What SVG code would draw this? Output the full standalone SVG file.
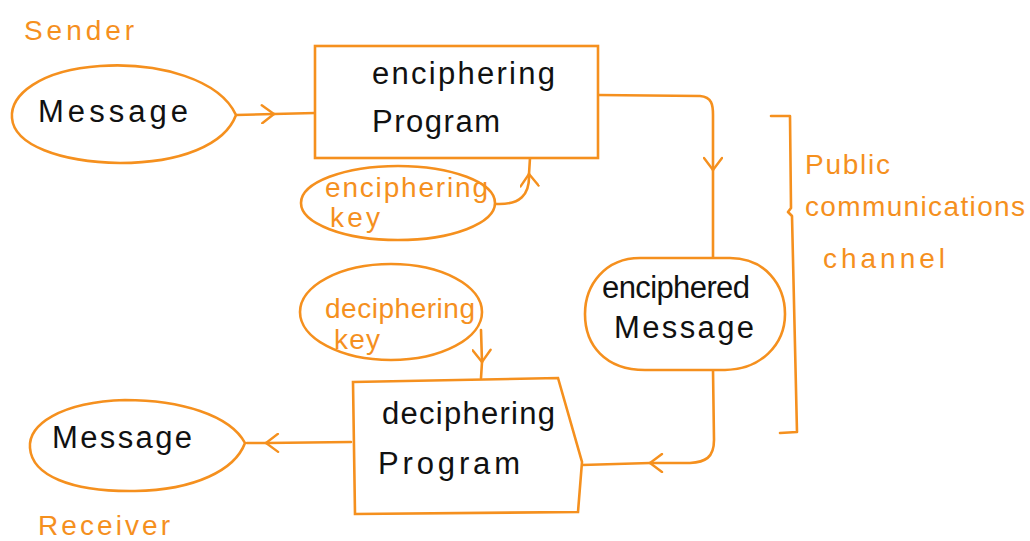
<svg xmlns="http://www.w3.org/2000/svg" width="1030" height="541" viewBox="0 0 1030 541">
<defs>
<style>
.o{fill:none;stroke:#f5901e;stroke-width:2.6;stroke-linecap:round;stroke-linejoin:round}
.bn{fill:#fff;stroke:#f5901e;stroke-width:2.6}
.t{font-family:"Liberation Sans",Arial,sans-serif;font-size:31px;fill:#111}
.ot{font-family:"Liberation Sans",Arial,sans-serif;font-size:28px;fill:#f5901e}
</style>
<marker id="ch" viewBox="0 0 20 20" refX="14" refY="10" markerWidth="20" markerHeight="20" markerUnits="userSpaceOnUse" orient="auto">
<path d="M2,1 L14,10 L2,19" fill="none" stroke="#f5901e" stroke-width="2.4" stroke-linecap="round"/>
</marker>
</defs>
<rect width="1030" height="541" fill="#fff"/>
<text class="ot" x="24" y="40" textLength="110" lengthAdjust="spacing">Sender</text>
<text class="ot" x="38" y="535" textLength="132" lengthAdjust="spacing">Receiver</text>
<g id="connectors">
<path class="o" d="M236,115 L274,114" marker-end="url(#ch)"/>
<path class="o" d="M274,114 L315,113"/>
<path class="o" d="M496,204 C520,205 530,195 529,174" marker-end="url(#ch)"/>
<path class="o" d="M529,174 L530,158"/>
<path class="o" d="M598,95 L700,96 C712,97 713,105 713,115 L713,170" marker-end="url(#ch)"/>
<path class="o" d="M713,170 L713,258"/>
<path class="o" d="M713,370 L714,440 C714,458 705,462 690,463 L650,463" marker-end="url(#ch)"/>
<path class="o" d="M650,463 L582,465"/>
<path class="o" d="M481,330 L482,362" marker-end="url(#ch)"/>
<path class="o" d="M482,362 L481,378"/>
<path class="o" d="M351,442 L266,443" marker-end="url(#ch)"/>
<path class="o" d="M266,443 L247,443"/>
<path class="o" d="M771,116 L790,116 L791,208 L788,212 L792,216 L797,432 L780,433"/>
</g>
<g id="msg-sender">
<path class="bn" d="M236,115 C220,80 160,62 100,66 C40,70 10,95 12,118 C14,145 60,162 120,163 C180,163 225,145 236,115 Z"/>
<text class="t" x="38" y="122" textLength="150" lengthAdjust="spacing">Message</text>
</g>
<g id="enc-program">
<rect class="bn" x="315" y="46" width="283" height="112"/>
<text class="t" x="372" y="84" textLength="183" lengthAdjust="spacing">enciphering</text>
<text class="t" x="372" y="132" textLength="128" lengthAdjust="spacing">Program</text>
</g>
<g id="enc-key">
<ellipse class="bn" cx="398" cy="203" rx="97" ry="37"/>
<text class="ot" x="325" y="197" textLength="163" lengthAdjust="spacing">enciphering</text>
<text class="ot" x="330" y="227" textLength="50" lengthAdjust="spacing">key</text>
</g>
<g id="enc-message">
<path class="bn" d="M640,258 L730,258 C765,258 785,285 785,314 C785,345 760,370 725,370 L645,370 C605,370 585,345 585,314 C585,285 605,258 640,258 Z"/>
<text class="t" x="602" y="298" textLength="148" lengthAdjust="spacing">enciphered</text>
<text class="t" x="614" y="338" textLength="140" lengthAdjust="spacing">Message</text>
</g>
<g id="channel-label">
<text class="ot" x="805" y="174" textLength="85" lengthAdjust="spacing">Public</text>
<text class="ot" x="805" y="216" textLength="220" lengthAdjust="spacing">communications</text>
<text class="ot" x="823" y="268" textLength="122" lengthAdjust="spacing">channel</text>
</g>
<g id="dec-key">
<ellipse class="bn" cx="391" cy="312" rx="91" ry="48"/>
<text class="ot" x="325" y="318" textLength="150" lengthAdjust="spacing">deciphering</text>
<text class="ot" x="334" y="349" textLength="46" lengthAdjust="spacing">key</text>
</g>
<g id="dec-program">
<path class="bn" d="M353,382 L558,378 L582,462 L578,512 L355,514 Z"/>
<text class="t" x="382" y="424" textLength="173" lengthAdjust="spacing">deciphering</text>
<text class="t" x="378" y="474" textLength="142" lengthAdjust="spacing">Program</text>
</g>
<g id="msg-receiver">
<path class="bn" d="M245,443 C230,415 180,400 125,400 C60,402 28,425 30,448 C32,475 70,492 135,491 C195,490 235,470 245,443 Z"/>
<text class="t" x="52" y="448" textLength="140" lengthAdjust="spacing">Message</text>
</g>
</svg>
